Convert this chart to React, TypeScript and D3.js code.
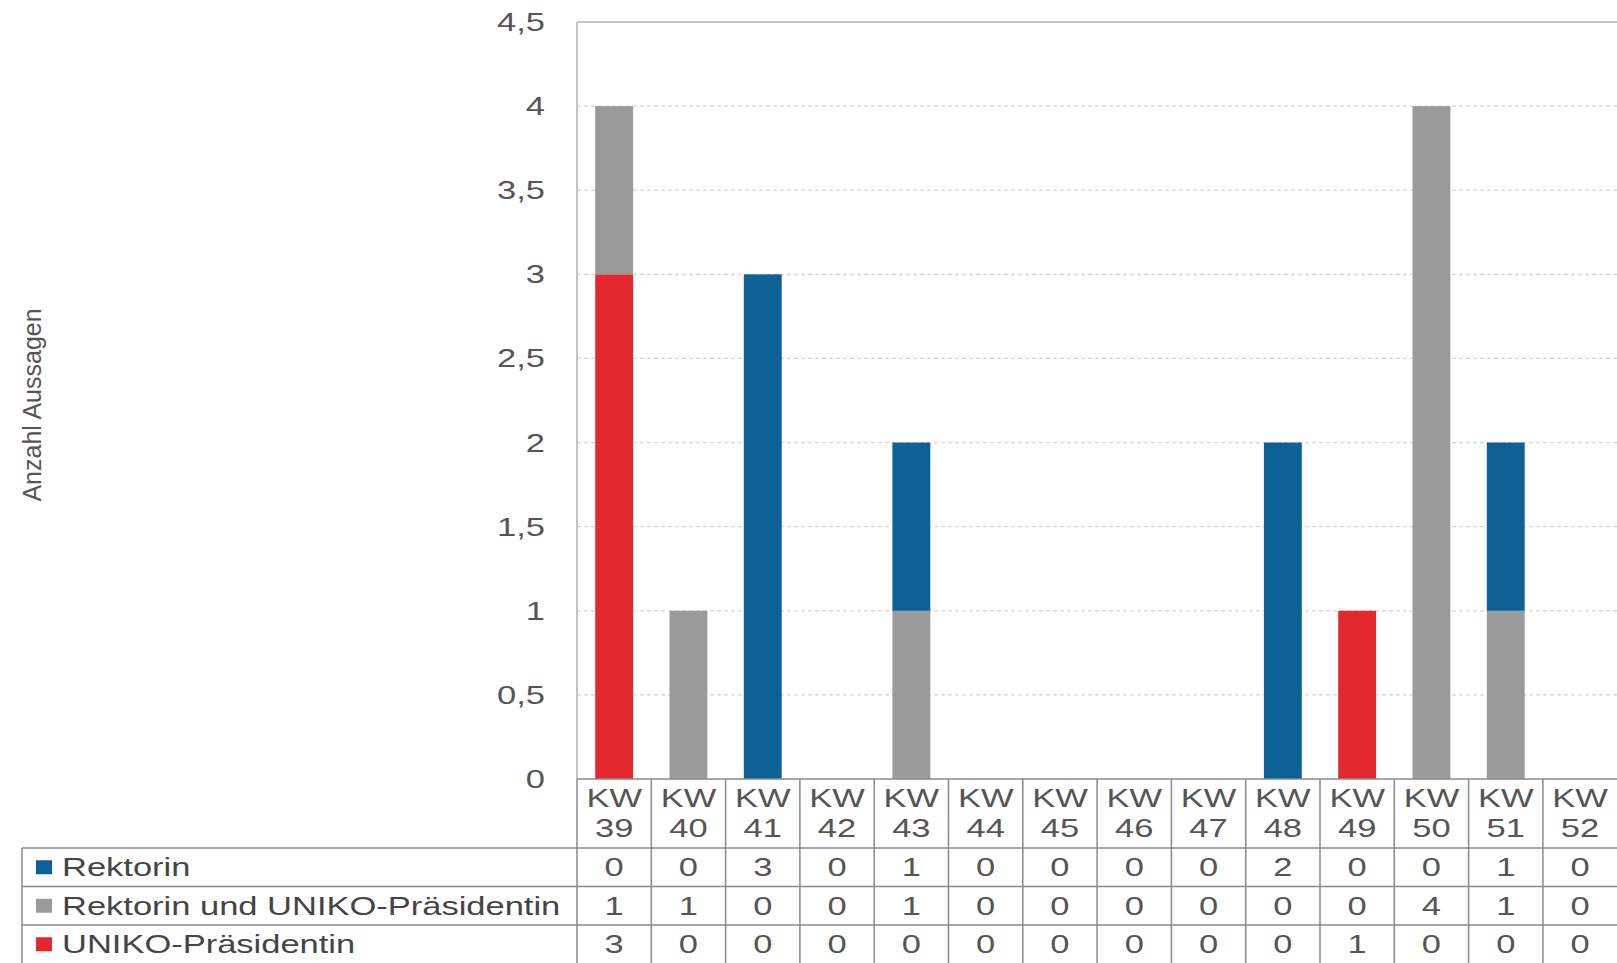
import React from "react";
import * as d3 from "d3";

const categories = ["KW 39","KW 40","KW 41","KW 42","KW 43","KW 44","KW 45","KW 46","KW 47","KW 48","KW 49","KW 50","KW 51","KW 52"];
const rektorin = [0,0,3,0,1,0,0,0,0,2,0,0,1,0];
const beide = [1,1,0,0,1,0,0,0,0,0,0,4,1,0];
const uniko = [3,0,0,0,0,0,0,0,0,0,1,0,0,0];
const yTicks = [0,0.5,1,1.5,2,2.5,3,3.5,4,4.5];

const seriesNames = ["Rektorin", "Rektorin und UNIKO-Präsidentin", "UNIKO-Präsidentin"];
const seriesColors = ["#0d6197", "#9a9a9a", "#e3282e"];
const seriesValues = [rektorin, beide, uniko];

const W = 1617, H = 963;
const plotL = 577, plotR = 1617.2, plotT = 22, plotB = 779;
const rowH = 38.5;
const headerB = 848;
const tableL = 22;
const SX = 1.38;
const txt = "#555";

const locale = d3.formatLocale({ decimal: ",", thousands: ".", grouping: [3], currency: ["", "€"] });
const fmt = locale.format("~g");

export default function App() {
  const x = d3.scaleBand<string>().domain(categories).range([plotL, plotR]).paddingInner(0.49).paddingOuter(0.245);
  const y = d3.scaleLinear().domain([0, 4.5]).range([plotB, plotT]);
  const step = x.step();

  const table = categories.map((c, i) => ({ c, r: rektorin[i], b: beide[i], u: uniko[i] }));
  const stack = d3.stack<any>().keys(["u", "b", "r"])(table);
  const colorByKey: Record<string, string> = { r: seriesColors[0], b: seriesColors[1], u: seriesColors[2] };

  const font = "'Liberation Sans', Arial, sans-serif";

  const sText = (key: string, tx: number, ty: number, s: string, anchor: string, fill = txt, size = 25) => (
    <text key={key} transform={`translate(${tx},${ty}) scale(${SX},1)`} textAnchor={anchor} fontSize={size} fill={fill} fontFamily={font}>{s}</text>
  );

  return (
    <svg width={W} height={H} style={{ position: "fixed", left: 0, top: 0, background: "#fff" }}>
      <rect x={0} y={0} width={W} height={H} fill="#fff" />
      {/* gridlines */}
      {yTicks.filter(t => t > 0 && t < 4.5).map(t => (
        <line key={"g" + t} x1={plotL} x2={W} y1={y(t)} y2={y(t)} stroke="#d4d4d4" strokeWidth={1.2} strokeDasharray="4,3" />
      ))}
      {/* plot border */}
      <line x1={plotL} x2={W} y1={plotT} y2={plotT} stroke="#c4c4c4" strokeWidth={2} />
      <line x1={plotL} x2={plotL} y1={plotT} y2={plotB} stroke="#c4c4c4" strokeWidth={2} />
      {/* bars */}
      {stack.map(layer => (
        <g key={layer.key} fill={colorByKey[layer.key]}>
          {layer.map((d, i) => d[1] - d[0] > 0 ? (
            <rect key={i} x={x(categories[i])!} width={x.bandwidth()} y={y(d[1])} height={y(d[0]) - y(d[1])} />
          ) : null)}
        </g>
      ))}
      {/* y tick labels */}
      {yTicks.map(t => sText("yt" + t, 545, y(t) + 9, fmt(t), "end"))}
      {/* y axis title */}
      <text transform={`translate(41,${405}) rotate(-90)`} textAnchor="middle" fontSize={25} fill={txt} fontFamily={font}>Anzahl Aussagen</text>
      {/* data table lines */}
      <g stroke="#8a8a8a" strokeWidth={1.5}>
        <line x1={plotL} x2={W} y1={plotB} y2={plotB} />
        <line x1={tableL} x2={W} y1={headerB} y2={headerB} />
        {[1, 2].map(k => <line key={"h" + k} x1={tableL} x2={W} y1={headerB + k * rowH} y2={headerB + k * rowH} />)}
        <line x1={tableL} x2={tableL} y1={headerB} y2={H} />
        {categories.map((c, i) => (
          <line key={"v" + i} x1={plotL + i * step} x2={plotL + i * step} y1={plotB} y2={H} />
        ))}
      </g>
      {/* header labels */}
      {categories.map(c => {
        const cx = x(c)! + x.bandwidth() / 2;
        const [a, b] = c.split(" ");
        return (
          <g key={"hl" + c}>
            {sText("a" + c, cx, 807, a, "middle")}
            {sText("b" + c, cx, 837, b, "middle")}
          </g>
        );
      })}
      {/* legend rows and values */}
      {seriesNames.map((name, k) => {
        const top = headerB + k * rowH;
        const base = top + rowH / 2 + 9;
        return (
          <g key={"row" + name}>
            <rect x={36} y={top + rowH / 2 - 7} width={16} height={14} fill={seriesColors[k]} />
            {sText("n" + name, 62, base, name, "start", "#454545")}
            {seriesValues[k].map((v, i) => sText("v" + k + "-" + i, x(categories[i])! + x.bandwidth() / 2, base, String(v), "middle"))}
          </g>
        );
      })}
    </svg>
  );
}
